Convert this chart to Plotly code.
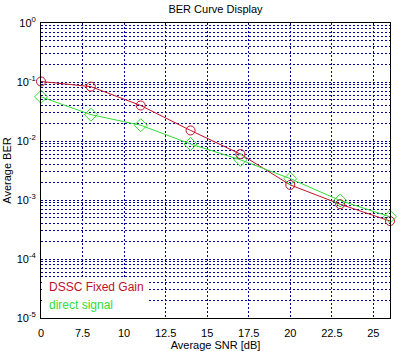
import plotly.graph_objects as go

snr = [5, 8, 11, 14, 17, 20, 23, 26]
ber_dssc = [0.102, 0.0835, 0.040, 0.0151, 0.0060, 0.0018, 0.00085, 0.00044]
ber_direct = [0.056, 0.028, 0.0185, 0.0089, 0.0048, 0.0023, 0.00098, 0.00052]

x_tickvals = [5, 7.5, 10, 12.5, 15, 17.5, 20, 22.5, 25]
x_ticktext = ["0", "7.5", "10", "12.5", "15", "17.5", "20", "22.5", "25"]
y_tickvals = [1, 1e-1, 1e-2, 1e-3, 1e-4, 1e-5]
y_ticktext = ["10<sup>0</sup>", "10<sup>-1</sup>", "10<sup>-2</sup>", "10<sup>-3</sup>",
              "10<sup>-4</sup>", "10<sup>-5</sup>"]

navy = "#000099"
red = "#C0102A"
green = "#33DD33"
font = "Liberation Sans, Arial, sans-serif"
gdash = "2px,2px"

fig = go.Figure()
fig.add_trace(go.Scatter(x=snr, y=ber_dssc, mode="lines+markers", name="DSSC Fixed Gain",
                         cliponaxis=False,
                         line=dict(color=red, width=1),
                         marker=dict(symbol="circle-open", size=9, color=red, line=dict(width=1))))
fig.add_trace(go.Scatter(x=snr, y=ber_direct, mode="lines+markers", name="direct signal",
                         cliponaxis=False,
                         line=dict(color=green, width=1),
                         marker=dict(symbol="diamond-open", size=10, color=green, line=dict(width=1))))

# legend box (white, no border) covering the grid
fig.add_annotation(xref="paper", yref="paper", x=0, y=0, xanchor="left", yanchor="bottom",
                   text=" ", showarrow=False, width=106, height=40, bgcolor="white",
                   borderpad=0, borderwidth=0, xshift=1, yshift=1)
fig.add_annotation(xref="paper", yref="paper", x=0.017, y=0.105, xanchor="left", yanchor="middle",
                   text="DSSC Fixed Gain", showarrow=False,
                   font=dict(family=font, size=12, color=red))
fig.add_annotation(xref="paper", yref="paper", x=0.017, y=0.044, xanchor="left", yanchor="middle",
                   text="direct signal", showarrow=False,
                   font=dict(family=font, size=12, color=green))

fig.update_layout(
    width=404, height=351,
    margin=dict(l=41, r=14, t=23, b=33),
    paper_bgcolor="white", plot_bgcolor="white",
    showlegend=False,
    font=dict(family=font, size=11, color="black"),
    title=dict(text="BER Curve Display", x=0.5, xref="paper", xanchor="center",
               y=1, yref="container", yanchor="top", pad=dict(t=5),
               font=dict(family=font, size=11, color="black")),
    xaxis=dict(range=[5, 26], tickvals=x_tickvals, ticktext=x_ticktext,
               showgrid=True, gridcolor=navy, griddash=gdash, gridwidth=1,
               showline=True, linecolor="black", linewidth=1, mirror=True,
               ticks="outside", ticklen=5, tickcolor="rgba(0,0,0,0)",
               zeroline=False, automargin=False,
               title=dict(text="Average SNR [dB]", standoff=4, font=dict(size=11))),
    yaxis=dict(type="log", range=[-5, 0], tickvals=y_tickvals, ticktext=y_ticktext,
               showgrid=True, gridcolor=navy, griddash=gdash, gridwidth=1,
               showline=True, linecolor="black", linewidth=1, mirror=True,
               ticks="outside", ticklen=2, tickcolor="rgba(0,0,0,0)",
               zeroline=False, automargin=False,
               minor=dict(dtick="D1", showgrid=True, gridcolor=navy, griddash=gdash, gridwidth=1, ticks=""),
               title=dict(text="Average BER", standoff=2, font=dict(size=11))),
)

fig.write_html("out.html")
